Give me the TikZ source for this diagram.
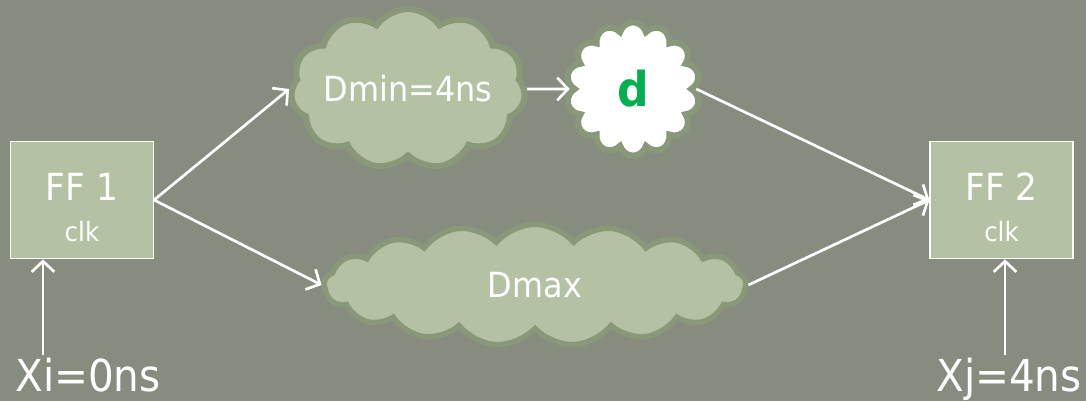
\documentclass[tikz,border=0pt]{standalone}
\usepackage{fontspec}
\setmainfont{DejaVu Sans}[FakeStretch=0.92]
\usepackage{tikz}
\usetikzlibrary{shapes.symbols, arrows.meta, positioning}
\definecolor{slideBg}{HTML}{868D7F}
\definecolor{boxFill}{HTML}{B4C2A3}
\definecolor{cloudEdge}{HTML}{8A987A}
\definecolor{officeGreen}{HTML}{00B050}

\begin{document}
\begin{tikzpicture}[
    x=0.75pt, y=0.75pt,
    ffbox/.style={rectangle, draw=white, line width=1.1pt, fill=boxFill, minimum width=107pt, minimum height=88pt, align=center, text=white, inner sep=0pt, font=\fontsize{20}{31}\selectfont},
    delay/.style={cloud, cloud puffs=#1, cloud ignores aspect, draw=cloudEdge, line width=4.5pt, fill=boxFill, text=white, inner sep=0pt, font=\fontsize{26}{30}\selectfont},
    arrow/.style={-{Straight Barb[length=8pt, width=17pt]}, line width=2pt, white},
    tlabel/.style={text=white, inner sep=0pt, font=\fontsize{33}{36}\selectfont}
]

% Slide background
\fill[slideBg] (0,0) rectangle (1086,401);

% Flip-flops
\node[ffbox] (ff1) at (82,201) {{\fontsize{28}{31}\selectfont\rule{0pt}{32pt}FF 1}\\clk};
\node[ffbox] (ff2) at (1001.5,201) {{\fontsize{28}{31}\selectfont\rule{0pt}{32pt}FF 2}\\clk};

% Path delays
\node[delay=11, cloud puff arc=110, minimum width=168pt, minimum height=120pt] (dmin) at (408,312) {Dmin=4ns};
\node[delay=14, fill=white, minimum width=100pt, minimum height=100pt, text=officeGreen, font=\fontsize{36}{40}\selectfont\bfseries] (d) at (633,312) {d};
\node[delay=17, cloud puff arc=100, line width=4pt, minimum width=316pt, minimum height=91pt] (dmax) at (535,116) {Dmax};

% Clock arrival times
\node[tlabel, anchor=base] (xi) at (88,9) {Xi=0ns};
\node[tlabel, anchor=base] (xj) at (1009,9) {Xj=4ns};
\coordinate (xistart) at (43,46);
\coordinate (xjstart) at (1005,46);

% Arrows
\draw[arrow] (ff1.east) -- (dmin.west);
\draw[arrow] (ff1.east) -- (dmax.west);
\draw[arrow] (dmin.east) -- (d.west);
\draw[arrow] (d.east) -- (ff2.west);
\draw[arrow] (dmax.east) -- (ff2.west);
\draw[arrow] (xistart) -- (xistart |- ff1.south);
\draw[arrow] (xjstart) -- (xjstart |- ff2.south);

\end{tikzpicture}
\end{document}
